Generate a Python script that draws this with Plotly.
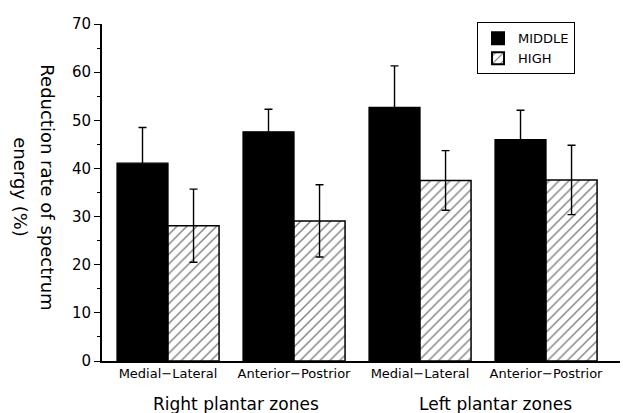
import plotly.graph_objects as go

# Zones measured on each foot
zones = ["Medial\u2212Lateral", "Anterior\u2212Postrior", "Medial\u2212Lateral", "Anterior\u2212Postrior"]
positions = [0, 1, 2, 3]

# Mean reduction rate (%) and standard deviation per excitation level
middle_mean = [41.1, 47.6, 52.7, 46.0]
middle_sd = [7.4, 4.7, 8.6, 6.1]
high_mean = [28.1, 29.1, 37.5, 37.6]
high_sd = [7.6, 7.5, 6.2, 7.2]

foot_labels = ["Right plantar zones", "Left plantar zones"]
foot_centers = [0.54, 2.6]

# Y-axis title, two lines read top to bottom
ytitle_lines = ["Reduction rate of spectrum", "energy (%)"]
ytitle_x = [-0.106, -0.158]

FONT = "DejaVu Sans"

fig = go.Figure()
fig.add_trace(go.Bar(
    name="MIDDLE", x=positions, y=middle_mean,
    marker=dict(color="black", line=dict(color="black", width=1.2)),
    error_y=dict(type="data", array=middle_sd, visible=True,
                 color="black", thickness=1.4, width=4),
))
fig.add_trace(go.Bar(
    name="HIGH", x=positions, y=high_mean,
    marker=dict(color="white", line=dict(color="black", width=1.5),
                pattern=dict(shape="/", fgcolor="black", bgcolor="white",
                             size=7, solidity=0.2)),
    error_y=dict(type="data", array=high_sd, visible=True,
                 color="black", thickness=1.4, width=4),
))

for lab, cx in zip(foot_labels, foot_centers):
    fig.add_annotation(x=cx, xref="x", y=-0.128, yref="paper",
                       text=lab, showarrow=False, yanchor="middle",
                       font=dict(family=FONT, size=17, color="black"))

for line, px in zip(ytitle_lines, ytitle_x):
    fig.add_annotation(x=px, xref="paper", y=0.515, yref="paper",
                       text=line, textangle=90, showarrow=False,
                       xanchor="center", yanchor="middle",
                       font=dict(family=FONT, size=18, color="black"))

fig.update_layout(
    width=623, height=413,
    margin=dict(l=102, r=3, t=24, b=52),
    paper_bgcolor="white", plot_bgcolor="white",
    barmode="group", bargap=0.19, bargroupgap=0,
    font=dict(family=FONT, color="black"),
    showlegend=True,
    legend=dict(x=0.724, y=1.005, xanchor="left", yanchor="top",
                bordercolor="black", borderwidth=1, bgcolor="white",
                font=dict(family=FONT, size=13, color="black"),
                tracegroupgap=2, itemsizing="constant"),
    xaxis=dict(range=[-0.524, 3.587], tickvals=positions, ticktext=zones,
               showline=True, linecolor="black", linewidth=1.6,
               ticks="", showgrid=False, zeroline=False,
               tickfont=dict(family=FONT, size=13, color="black")),
    yaxis=dict(range=[0, 70], dtick=10, ticks="outside", ticklen=6,
               tickwidth=1.4, tickcolor="black",
               minor=dict(dtick=5, ticks="outside", ticklen=3,
                          tickwidth=1.2, tickcolor="black"),
               showline=True, linecolor="black", linewidth=2,
               showgrid=False, zeroline=False,
               tickfont=dict(family=FONT, size=15, color="black")),
)

fig.write_html("out.html")
